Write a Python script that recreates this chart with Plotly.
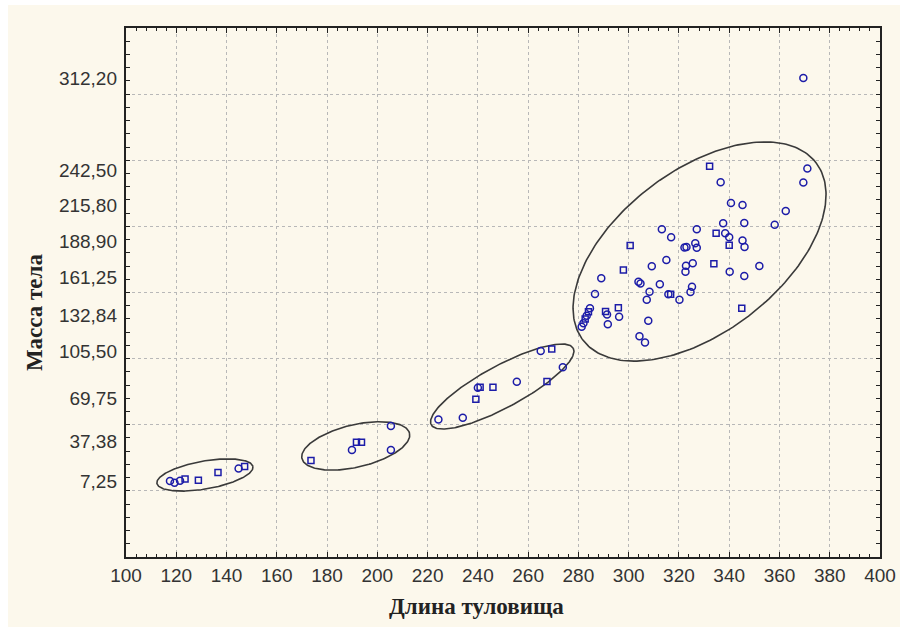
import numpy as np
import plotly.graph_objects as go

# ---- data ----
circle_x = [117.5, 119.3, 121.5, 144.8,
            189.9, 205.4, 205.4,
            224.3, 234.0, 240.0, 255.5, 265.0, 273.8,
            369.5, 371.1, 336.6, 369.5, 340.7, 345.3, 362.5, 337.6, 346.0, 358.1,
            313.2, 316.9, 327.1, 338.4, 340.0, 322.2, 323.0, 326.5, 327.1, 345.3,
            346.1, 289.1, 309.2, 315.0, 322.8, 325.5, 322.6, 340.2, 346.0, 352.0,
            303.9, 304.7, 312.4, 308.3, 307.2, 286.6, 315.8, 320.2, 325.2, 324.6,
            284.6, 283.3, 282.0, 281.3, 291.4, 291.7, 296.2, 307.8, 304.3, 306.5]
circle_y = [7.5, 6.2, 7.7, 16.9,
            30.9, 49.1, 30.9,
            54.0, 55.3, 78.0, 82.5, 105.8, 93.4,
            312.2, 243.8, 233.3, 233.2, 217.7, 216.2, 211.6, 202.3, 202.6, 201.2,
            197.8, 191.8, 197.8, 194.8, 191.7, 184.0, 184.4, 187.3, 183.9, 189.3,
            184.4, 160.7, 169.8, 174.6, 170.2, 172.1, 165.7, 165.7, 162.5, 170.0,
            158.2, 156.8, 156.3, 150.6, 144.6, 148.9, 148.6, 144.6, 154.4, 150.4,
            138.1, 132.5, 126.7, 124.1, 133.4, 126.0, 131.7, 128.6, 117.0, 112.2]

square_x = [123.5, 128.8, 136.6, 147.2,
            173.6, 191.7, 193.7,
            239.2, 240.9, 246.0, 267.5, 269.4,
            332.2, 334.8, 300.6, 340.0, 297.9, 333.9, 316.7, 345.0, 284.0, 282.7,
            290.8, 295.9]
square_y = [9.0, 8.0, 13.9, 18.4,
            23.0, 36.7, 36.7,
            69.2, 78.3, 78.3, 82.7, 107.3,
            245.5, 194.8, 185.5, 185.7, 167.0, 171.8, 148.6, 138.1, 135.5, 130.0,
            135.6, 138.5]

# ellipses: centre, major semi-axis vector, minor semi-axis vector (data units)
ell_cx = [131.4, 191.4, 249.7, 328.2]
ell_cy = [12.0, 34.0, 78.9, 181.0]
ell_ax = [19.1, 21.4, 28.25, 46.4]
ell_ay = [6.35, 9.6, 28.96, 67.0]
ell_bx = [0.95, 1.95, 3.98, 19.5]
ell_by = [-10.4, -15.6, -13.99, -48.8]

y_tick_vals = [7.25, 37.38, 69.75, 105.50, 132.84, 161.25, 188.90, 215.80, 242.50, 312.20]
y_tick_text = ["7,25", "37,38", "69,75", "105,50", "132,84", "161,25",
               "188,90", "215,80", "242,50", "312,20"]

x_title = "Длина туловища"
y_title = "Масса тела"

# ---- figure ----
fig = go.Figure()

t = np.linspace(0, 2 * np.pi, 241)
for cx, cy, ax, ay, bx, by in zip(ell_cx, ell_cy, ell_ax, ell_ay, ell_bx, ell_by):
    fig.add_trace(go.Scatter(
        x=cx + ax * np.cos(t) + bx * np.sin(t),
        y=cy + ay * np.cos(t) + by * np.sin(t),
        mode="lines", line=dict(color="#3a3a3a", width=1.6),
        hoverinfo="skip", showlegend=False))

blue = "#1c1ca8"
fig.add_trace(go.Scatter(x=circle_x, y=circle_y, mode="markers",
                         marker=dict(symbol="circle-open", size=7, color=blue,
                                     line=dict(width=1.5, color=blue)),
                         showlegend=False))
fig.add_trace(go.Scatter(x=square_x, y=square_y, mode="markers",
                         marker=dict(symbol="square-open", size=6, color=blue,
                                     line=dict(width=1.5, color=blue)),
                         showlegend=False))

tick_font = dict(family="Liberation Sans, Arial, sans-serif", size=19, color="#333333")
grid_col = "#b8b8b8"
title_font = dict(family="Liberation Serif, Times New Roman, serif", size=23,
                  color="#222", weight="bold")

fig.update_layout(
    width=900, height=627,
    autosize=False,
    margin=dict(l=126, r=20, t=28, b=70),
    paper_bgcolor="#ffffff",
    plot_bgcolor="#ffffff",
    showlegend=False,
    xaxis=dict(range=[100, 400], tickmode="linear", tick0=100, dtick=20,
               showgrid=True, gridcolor=grid_col, griddash="dot", gridwidth=1,
               ticks="inside", ticklen=5, tickcolor="#222", tickwidth=1,
               minor=dict(tickmode="linear", tick0=100, dtick=4, ticks="inside",
                          ticklen=3, tickcolor="#222", showgrid=False),
               showline=True, linecolor="#222", linewidth=1.5, mirror="ticks",
               zeroline=False, tickfont=tick_font, automargin=False),
    yaxis=dict(range=[-50, 350], tickmode="linear", tick0=0, dtick=50,
               showgrid=True, gridcolor=grid_col, griddash="dot", gridwidth=1,
               ticks="inside", ticklen=4, tickcolor="#222", tickwidth=1,
               minor=dict(tickmode="linear", tick0=0, dtick=10, ticks="inside",
                          ticklen=4, tickcolor="#222", showgrid=False),
               showticklabels=False,
               showline=True, linecolor="#222", linewidth=1.5, mirror="ticks",
               zeroline=False, automargin=False),
    yaxis2=dict(range=[-50, 350], overlaying="y", side="left", anchor="x",
                tickmode="array", tickvals=y_tick_vals, ticktext=y_tick_text,
                ticks="", showgrid=False, showline=False, zeroline=False,
                tickfont=tick_font, ticklabelstandoff=8, automargin=False),
    shapes=[dict(type="rect", xref="paper", yref="paper", layer="below",
                 x0=-0.1565, x1=1.03, y0=-0.135, y1=1.0435,
                 fillcolor="#fcf8ec", line=dict(width=0))],
    annotations=[
        dict(text=y_title, xref="paper", yref="paper", x=-0.122, y=0.463,
             textangle=-90, showarrow=False, xanchor="center", yanchor="middle",
             font=title_font),
        dict(text=x_title, xref="paper", yref="paper", x=0.4655, y=-0.0945,
             showarrow=False, xanchor="center", yanchor="middle",
             font=title_font),
    ],
)

# invisible trace to activate the label axis
fig.add_trace(go.Scatter(x=[None], y=[None], yaxis="y2", showlegend=False,
                         hoverinfo="skip"))

fig.write_html("out.html",
               config={"responsive": False, "displayModeBar": False},
               post_script="document.body.style.margin='0';document.body.style.overflow='hidden';")
